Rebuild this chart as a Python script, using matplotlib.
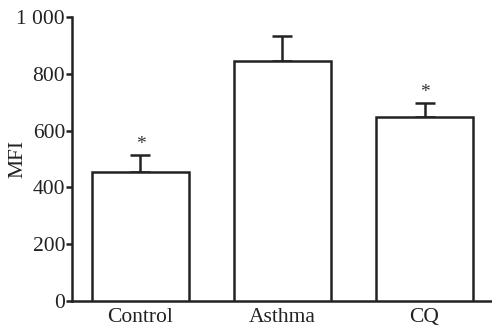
import matplotlib
matplotlib.use("Agg")
import matplotlib.pyplot as plt
from matplotlib.ticker import FuncFormatter

categories = ["Control", "Asthma", "CQ"]
values = [455, 845, 647]
errors = [60, 87, 51]
significant = [True, False, True]
yticks = [0, 200, 400, 600, 800, 1000]

plt.rcParams['font.family'] = ['Liberation Serif', 'DejaVu Serif']

fig = plt.figure(figsize=(4.92, 3.29), dpi=100)
ax = fig.add_axes([72/492, 28/329, 420/492, 284/329])

x = list(range(len(categories)))
lw = 1.8
col = '#222222'
ax.bar(x, values, width=0.683, color='white', edgecolor=col, linewidth=lw, zorder=3)
ax.errorbar(x, values, yerr=[[0]*len(errors), errors], fmt='none', ecolor=col,
            elinewidth=lw, capsize=7.5, capthick=lw, zorder=2)
for xi, v, e, s in zip(x, values, errors, significant):
    if s:
        ax.text(xi, v + e + 36, "*", ha='center', va='center', fontsize=14, color='#333333')

ax.set_xlim(-0.482, 2.475)
ax.set_ylim(0, 1000)
ax.set_yticks(yticks)
ax.yaxis.set_major_formatter(FuncFormatter(lambda v, p: f"{int(v):,}".replace(",", " ")))
ax.set_xticks(x)
ax.set_xticklabels(categories)
ax.tick_params(axis='x', length=0, labelsize=15.5, pad=5, colors=col)
ax.tick_params(axis='y', length=4.5, width=lw, labelsize=15.5, pad=0.5, colors=col)
for sp in ['top', 'right']:
    ax.spines[sp].set_visible(False)
for sp in ['left', 'bottom']:
    ax.spines[sp].set_linewidth(lw)
    ax.spines[sp].set_color(col)
ax.set_ylabel("MFI", fontsize=15.5, color=col)
ax.yaxis.set_label_coords(-0.105, 0.5)

fig.savefig("out.png", dpi=100)
